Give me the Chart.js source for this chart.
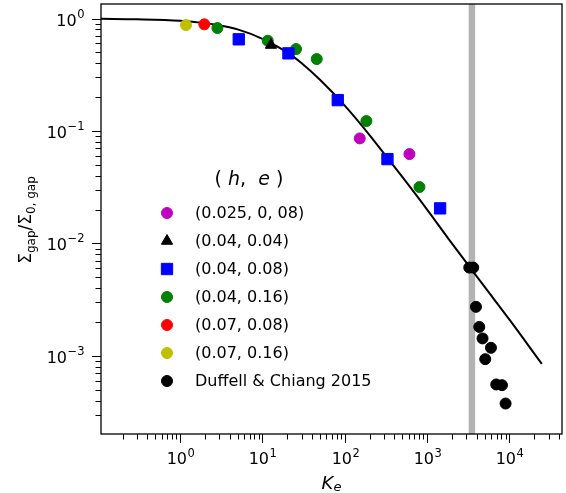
<!DOCTYPE html>
<html>
<head>
<meta charset="utf-8">
<script src="https://cdn.jsdelivr.net/npm/chart.js@4"></script>
<style>
  html, body { margin: 0; padding: 0; background: #fff; }
  #gap-chart { display: block; }
</style>
</head>
<body>
<canvas id="gap-chart" width="566" height="493"></canvas>
<script>
(function () {
    "use strict";

    // Data
    var curveK = [0.11, 0.3, 1, 2, 3, 5, 10, 20, 30, 50, 100, 200, 300, 500, 1000, 2000, 5000, 10000, 24700];
    var curveS = [0.995, 0.985, 0.955, 0.91, 0.87, 0.80, 0.66, 0.50, 0.40, 0.285, 0.168, 0.092, 0.063, 0.039, 0.0200, 0.0100, 0.0041, 0.0021, 0.00085];

    var bandK = 3500;

    var magK = [152, 610];
    var magS = [0.0859, 0.0623];
    var triK = [12.7];
    var triS = [0.581];
    var blueK = [5.16, 20.7, 82.2, 330, 1439];
    var blueS = [0.653, 0.49, 0.188, 0.0562, 0.0205];
    var greenK = [2.84, 11.6, 25.6, 45.7, 183, 807];
    var greenS = [0.823, 0.635, 0.535, 0.436, 0.1225, 0.0317];
    var redK = [1.97];
    var redS = [0.888];
    var yelK = [1.18];
    var yelS = [0.875];
    var dcK = [3250, 3630, 3920, 4300, 4710, 5960, 5080, 6910, 8110, 8970];
    var dcS = [0.0061, 0.0061, 0.00273, 0.00181, 0.00143, 0.00118, 0.000935, 0.000557, 0.000549, 0.000377];

    var legendLabels = ["(0.025, 0, 08)", "(0.04, 0.04)", "(0.04, 0.08)", "(0.04, 0.16)", "(0.07, 0.08)", "(0.07, 0.16)", "Duffell & Chiang 2015"];

    var xMin = 0.1096, xMax = 43450;
    var yMin = 2.02e-4, yMax = 1.346;

    var FONT = "'DejaVu Sans'";

    function pts(xs, ys) {
        return xs.map(function (x, i) { return {x: x, y: ys[i]}; });
    }

    function marker(label, xs, ys, color, style, r) {
        return {
            label: label,
            data: pts(xs, ys),
            showLine: false,
            pointStyle: style,
            pointRadius: r,
            pointBorderWidth: 1,
            backgroundColor: color,
            borderColor: color,
            order: 1
        };
    }

    function isMajor(v) {
        var l = Math.log10(v);
        return Math.abs(l - Math.round(l)) < 1e-9;
    }

    function logTicks(lo, hi) {
        var out = [];
        for (var e = Math.floor(Math.log10(lo)); e <= Math.ceil(Math.log10(hi)); e++) {
            for (var m = 1; m < 10; m++) {
                var v = m * Math.pow(10, e);
                if (v >= lo && v <= hi) out.push({value: v, major: m === 1});
            }
        }
        return out;
    }

    function noPad(s) {
        s.paddingLeft = 0; s.paddingRight = 0; s.paddingTop = 0; s.paddingBottom = 0;
    }

    // "10" with a raised exponent; align: "center" or "right"
    function powerLabel(c, exp, x, base, align) {
        var e = String(exp).replace("-", "\u2212");
        c.font = "16px " + FONT;
        var w1 = c.measureText("10").width;
        c.font = "11.5px " + FONT;
        var w2 = c.measureText(e).width;
        var x0 = align === "right" ? x - w1 - w2 : x - (w1 + w2) / 2;
        c.font = "16px " + FONT;
        c.fillText("10", x0, base);
        c.font = "11.5px " + FONT;
        c.fillText(e, x0 + w1 + 0.5, base - 7.6);
    }

    function runs(c, parts, x, y) {
        parts.forEach(function (p) {
            c.font = p.f;
            c.fillText(p.t, x, y + (p.dy || 0));
            x += c.measureText(p.t).width;
        });
    }

    function runsWidth(c, parts) {
        var w = 0;
        parts.forEach(function (p) { c.font = p.f; w += c.measureText(p.t).width; });
        return w;
    }

    // Frame, ticks, tick labels, titles and legend
    var decor = {
        id: "decor",
        afterDraw: function (chart) {
            var c = chart.ctx, a = chart.chartArea;
            var sx = chart.scales.x, sy = chart.scales.y;
            c.save();
            c.strokeStyle = "#000";
            c.fillStyle = "#000";
            c.lineWidth = 1;
            c.textBaseline = "alphabetic";
            sx.ticks.forEach(function (t) {
                var px = Math.round(sx.getPixelForValue(t.value)) + 0.5;
                var len = isMajor(t.value) ? 9 : 5.5;
                c.beginPath(); c.moveTo(px, a.bottom); c.lineTo(px, a.bottom + len); c.stroke();
                if (isMajor(t.value)) powerLabel(c, Math.round(Math.log10(t.value)), px, 464.3, "center");
            });
            sy.ticks.forEach(function (t) {
                var py = Math.round(sy.getPixelForValue(t.value)) + 0.5;
                var len = isMajor(t.value) ? 9 : 5.5;
                c.beginPath(); c.moveTo(a.left, py); c.lineTo(a.left - len, py); c.stroke();
                if (isMajor(t.value)) powerLabel(c, Math.round(Math.log10(t.value)), 84, py + 6.3, "right");
            });
            c.lineWidth = 1.3;
            c.strokeRect(a.left, a.top, a.right - a.left, a.bottom - a.top);

            // x axis title
            var xt = [{t: "K", f: "italic 18px " + FONT}, {t: "e", f: "italic 13px " + FONT, dy: 2}];
            runs(c, xt, (a.left + a.right) / 2 - runsWidth(c, xt) / 2, 488.7);

            // y axis title
            var yt = [
                {t: "\u03a3", f: "17px " + FONT},
                {t: "gap", f: "12px " + FONT, dy: 3.5},
                {t: "/\u03a3", f: "17px " + FONT},
                {t: "0, gap", f: "12px " + FONT, dy: 3.5}
            ];
            c.save();
            c.translate(31, 220);
            c.rotate(-Math.PI / 2);
            runs(c, yt, -runsWidth(c, yt) / 2, 0);
            c.restore();

            // legend title
            c.textBaseline = "middle";
            var lt = [
                {t: "( ", f: "19px " + FONT},
                {t: "h", f: "italic 19px " + FONT},
                {t: ",  ", f: "19px " + FONT},
                {t: "e", f: "italic 19px " + FONT},
                {t: " )", f: "19px " + FONT}
            ];
            runs(c, lt, 249 - runsWidth(c, lt) / 2, 180);

            // legend entries
            chart.data.datasets.forEach(function (ds, i) {
                if (i >= legendLabels.length) return;
                var ly = 213 + i * 28;
                c.fillStyle = ds.backgroundColor;
                c.strokeStyle = ds.borderColor;
                c.lineWidth = 1;
                Chart.helpers.drawPoint(c, {
                    pointStyle: ds.pointStyle, radius: ds.pointRadius, rotation: 0, borderWidth: 1
                }, 167, ly);
                c.fillStyle = "#000";
                c.font = "16px " + FONT;
                c.fillText(ds.label, 195, ly + 1);
            });
            c.restore();
        }
    };

    var ctx = document.getElementById("gap-chart").getContext("2d");
    new Chart(ctx, {
        type: "scatter",
        data: {
            datasets: [
                marker(legendLabels[0], magK, magS, "#bf00bf", "circle", 5.5),
                marker(legendLabels[1], triK, triS, "#000000", "triangle", 6.5),
                marker(legendLabels[2], blueK, blueS, "#0000ff", "rect", 8),
                marker(legendLabels[3], greenK, greenS, "#008000", "circle", 5.5),
                marker(legendLabels[4], redK, redS, "#ff0000", "circle", 5.5),
                marker(legendLabels[5], yelK, yelS, "#bfbf00", "circle", 5.5),
                marker(legendLabels[6], dcK, dcS, "#000000", "circle", 5.5),
                {
                    label: "fit",
                    data: pts(curveK, curveS),
                    showLine: true,
                    borderColor: "#000",
                    borderWidth: 2,
                    pointRadius: 0,
                    cubicInterpolationMode: "monotone",
                    order: 2
                },
                {
                    label: "band",
                    data: pts([bandK, bandK], [1e-5, 10]),
                    showLine: true,
                    borderColor: "#b3b3b3",
                    borderWidth: 6.5,
                    pointRadius: 0,
                    order: 3
                }
            ]
        },
        options: {
            responsive: false,
            animation: false,
            devicePixelRatio: 1,
            layout: {autoPadding: false, padding: {top: 4, right: 4, left: 0, bottom: 0}},
            plugins: {legend: {display: false}, tooltip: {enabled: false}},
            scales: {
                x: {
                    type: "logarithmic",
                    min: xMin,
                    max: xMax,
                    afterBuildTicks: function (s) { s.ticks = logTicks(xMin, xMax); },
                    afterFit: function (s) { s.height = 59; noPad(s); },
                    grid: {display: false},
                    border: {display: false},
                    ticks: {display: false}
                },
                y: {
                    type: "logarithmic",
                    min: yMin,
                    max: yMax,
                    afterBuildTicks: function (s) { s.ticks = logTicks(yMin, yMax); },
                    afterFit: function (s) { s.width = 101; noPad(s); },
                    grid: {display: false},
                    border: {display: false},
                    ticks: {display: false}
                }
            }
        },
        plugins: [decor]
    });

})();
</script>
</body>
</html>
